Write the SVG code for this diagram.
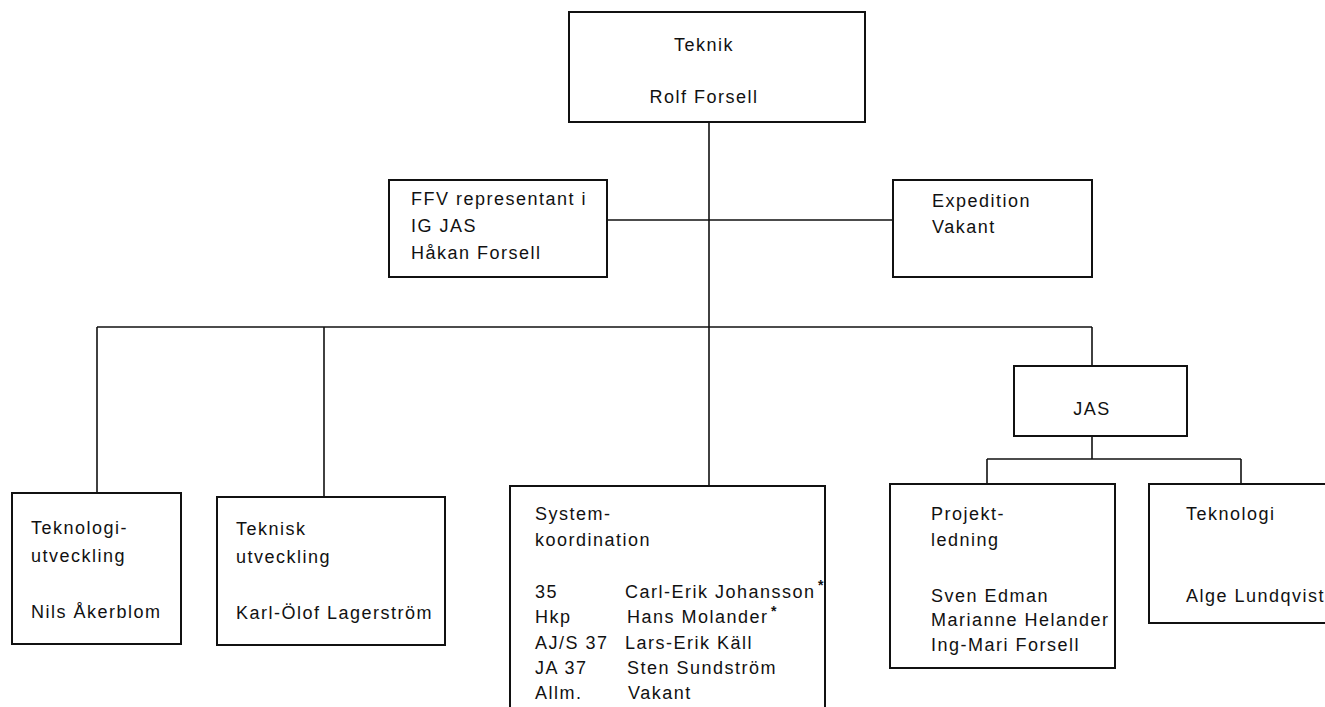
<svg xmlns="http://www.w3.org/2000/svg" width="1325" height="707" viewBox="0 0 1325 707">
<style>
.box{fill:#fff;stroke:#111;stroke-width:2}
.ln{fill:none;stroke:#111;stroke-width:1.6}
text{font-family:"Liberation Sans",Arial,sans-serif;font-size:18px;letter-spacing:1.5px;fill:#111}
.c{text-anchor:middle}
.st{font-size:14px;letter-spacing:0;font-weight:bold}
</style>
<rect width="1325" height="707" fill="#fff"/>
<g id="connectors">
<path class="ln" d="M709 122V486"/>
<path class="ln" d="M607 220H893"/>
<path class="ln" d="M97 327H1092"/>
<path class="ln" d="M97 327V493"/>
<path class="ln" d="M324 327V497"/>
<path class="ln" d="M1092 327V366"/>
<path class="ln" d="M1092 436V459"/>
<path class="ln" d="M987 459H1241"/>
<path class="ln" d="M987 459V484"/>
<path class="ln" d="M1241 459V484"/>
</g>
<g id="teknik">
<rect class="box" x="569" y="12" width="296" height="110"/>
<text class="c" x="704" y="51">Teknik</text>
<text class="c" x="704" y="103">Rolf Forsell</text>
</g>
<g id="ffv">
<rect class="box" x="389" y="180" width="218" height="97"/>
<text x="411" y="205">FFV representant i</text>
<text x="411" y="232">IG JAS</text>
<text x="411" y="259">Håkan Forsell</text>
</g>
<g id="expedition">
<rect class="box" x="893" y="180" width="199" height="97"/>
<text x="932" y="207">Expedition</text>
<text x="932" y="233">Vakant</text>
</g>
<g id="teknologiutveckling">
<rect class="box" x="12" y="493" width="169" height="151"/>
<text x="31" y="534">Teknologi-</text>
<text x="31" y="562">utveckling</text>
<text x="31" y="618">Nils Åkerblom</text>
</g>
<g id="tekniskutveckling">
<rect class="box" x="217" y="497" width="228" height="148"/>
<text x="236" y="535">Teknisk</text>
<text x="236" y="563">utveckling</text>
<text x="236" y="619">Karl-Ölof Lagerström</text>
</g>
<g id="systemkoordination">
<path class="box" d="M510 712V486H825V712"/>
<text x="535" y="520">System-</text>
<text x="535" y="546">koordination</text>
<text x="535" y="598">35</text>
<text x="625" y="598">Carl-Erik Johansson</text>
<text class="st" x="818" y="590">*</text>
<text x="535" y="623">Hkp</text>
<text x="627" y="623">Hans Molander</text>
<text class="st" x="771" y="616">*</text>
<text x="535" y="649">AJ/S 37</text>
<text x="625" y="649">Lars-Erik Käll</text>
<text x="535" y="674">JA 37</text>
<text x="627" y="674">Sten Sundström</text>
<text x="535" y="699">Allm.</text>
<text x="628" y="699">Vakant</text>
</g>
<g id="jas">
<rect class="box" x="1014" y="366" width="173" height="70"/>
<text class="c" x="1092" y="415">JAS</text>
</g>
<g id="projektledning">
<rect class="box" x="890" y="484" width="225" height="184"/>
<text x="931" y="520">Projekt-</text>
<text x="931" y="546">ledning</text>
<text x="931" y="602">Sven Edman</text>
<text x="931" y="626">Marianne Helander</text>
<text x="931" y="651">Ing-Mari Forsell</text>
</g>
<g id="teknologi">
<rect class="box" x="1149" y="484" width="190" height="139"/>
<text x="1186" y="520">Teknologi</text>
<text x="1186" y="602">Alge Lundqvist</text>
</g>
</svg>
